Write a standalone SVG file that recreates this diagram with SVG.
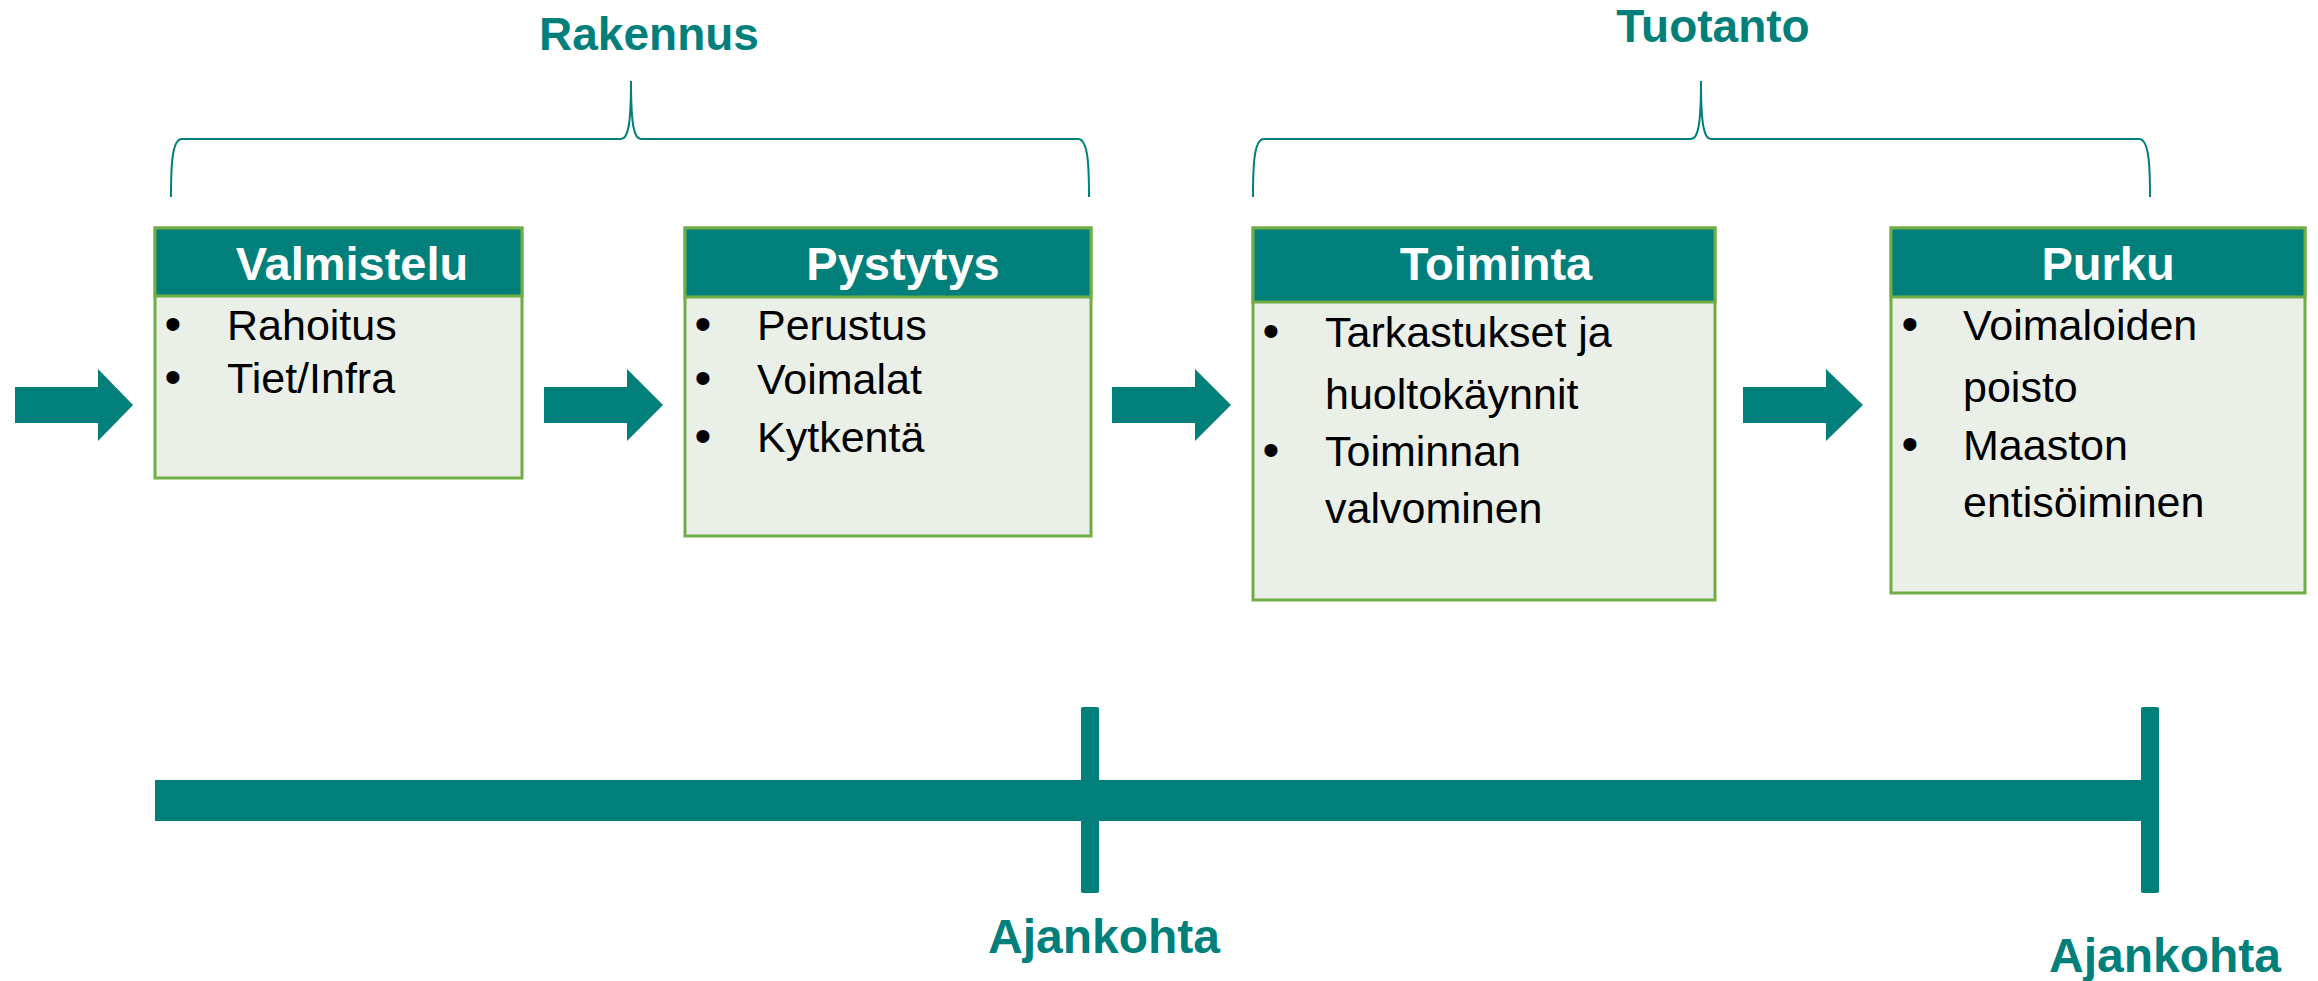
<svg xmlns="http://www.w3.org/2000/svg" width="2318" height="981" viewBox="0 0 2318 981">
<style>
.body{fill:#EAEFE8;stroke:#70AD47;stroke-width:3}
.head{fill:#007F7B;stroke:#70AD47;stroke-width:3}
.ht{font-family:"Liberation Sans",Arial,sans-serif;font-weight:bold;font-size:47px;fill:#FFFFFF;text-anchor:middle}
.bt{font-family:"Liberation Sans",Arial,sans-serif;font-size:43px;fill:#000000}
.bu{font-family:"Liberation Sans",Arial,sans-serif;font-size:48px;fill:#000000;text-anchor:middle}
.lbl{font-family:"Liberation Sans",Arial,sans-serif;font-weight:bold;font-size:46px;fill:#007F7B;text-anchor:middle}
.tl{font-family:"Liberation Sans",Arial,sans-serif;font-weight:bold;font-size:48px;fill:#007F7B;text-anchor:middle}
.brace{fill:none;stroke:#007F7B;stroke-width:2}
.arrow{fill:#007F7B}
.teal{fill:#007F7B}
</style>
<g id="labels">
<text class="lbl" x="649" y="50">Rakennus</text>
<text class="lbl" x="1713" y="42">Tuotanto</text>
</g>
<g id="braces">
<path class="brace" d="M171,197 C171,165 172,139 182,139 L621,139 C628,139 631,125 631,81 C631,125 634,139 641,139 L1078,139 C1088,139 1089,165 1089,197"/>
<path class="brace" d="M1253,197 C1253,165 1254,139 1264,139 L1691,139 C1698,139 1701,125 1701,81 C1701,125 1704,139 1711,139 L2139,139 C2149,139 2150,165 2150,197"/>
</g>
<g id="connectors">
<path class="arrow" d="M15,387 L98,387 L98,369 L133,405 L98,441 L98,423 L15,423 Z"/>
<path class="arrow" d="M544,387 L627,387 L627,369 L663,405 L627,441 L627,423 L544,423 Z"/>
<path class="arrow" d="M1112,387 L1195,387 L1195,369 L1231,405 L1195,441 L1195,423 L1112,423 Z"/>
<path class="arrow" d="M1743,387 L1826,387 L1826,369 L1863,405 L1826,441 L1826,423 L1743,423 Z"/>
</g>
<g id="valmistelu">
<rect class="body" x="155" y="228" width="367" height="250"/>
<rect class="head" x="155" y="228" width="367" height="68"/>
<text class="ht" x="352" y="280">Valmistelu</text>
<text class="bu" x="173" y="340">•</text>
<text class="bt" x="227" y="340">Rahoitus</text>
<text class="bu" x="173" y="393">•</text>
<text class="bt" x="227" y="393">Tiet/Infra</text>
</g>
<g id="pystytys">
<rect class="body" x="685" y="228" width="406" height="308"/>
<rect class="head" x="685" y="228" width="406" height="69"/>
<text class="ht" x="903" y="280">Pystytys</text>
<text class="bu" x="703" y="340">•</text>
<text class="bt" x="757" y="340">Perustus</text>
<text class="bu" x="703" y="394">•</text>
<text class="bt" x="757" y="394">Voimalat</text>
<text class="bu" x="703" y="452">•</text>
<text class="bt" x="757" y="452">Kytkentä</text>
</g>
<g id="toiminta">
<rect class="body" x="1253" y="228" width="462" height="372"/>
<rect class="head" x="1253" y="228" width="462" height="74"/>
<text class="ht" x="1496" y="280">Toiminta</text>
<text class="bu" x="1271" y="347">•</text>
<text class="bt" x="1325" y="347">Tarkastukset ja</text>
<text class="bt" x="1325" y="409">huoltokäynnit</text>
<text class="bu" x="1271" y="466">•</text>
<text class="bt" x="1325" y="466">Toiminnan</text>
<text class="bt" x="1325" y="523">valvominen</text>
</g>
<g id="purku">
<rect class="body" x="1891" y="228" width="414" height="365"/>
<rect class="head" x="1891" y="228" width="414" height="69"/>
<text class="ht" x="2108" y="280">Purku</text>
<text class="bu" x="1910" y="340">•</text>
<text class="bt" x="1963" y="340">Voimaloiden</text>
<text class="bt" x="1963" y="402">poisto</text>
<text class="bu" x="1910" y="460">•</text>
<text class="bt" x="1963" y="460">Maaston</text>
<text class="bt" x="1963" y="517">entisöiminen</text>
</g>
<g id="timeline">
<rect class="teal" x="155" y="780" width="1996" height="41"/>
<rect class="teal" x="1081" y="707" width="18" height="186" rx="2"/>
<rect class="teal" x="2141" y="707" width="18" height="186" rx="2"/>
<text class="tl" x="1104" y="953">Ajankohta</text>
<text class="tl" x="2165" y="972">Ajankohta</text>
</g>
</svg>
